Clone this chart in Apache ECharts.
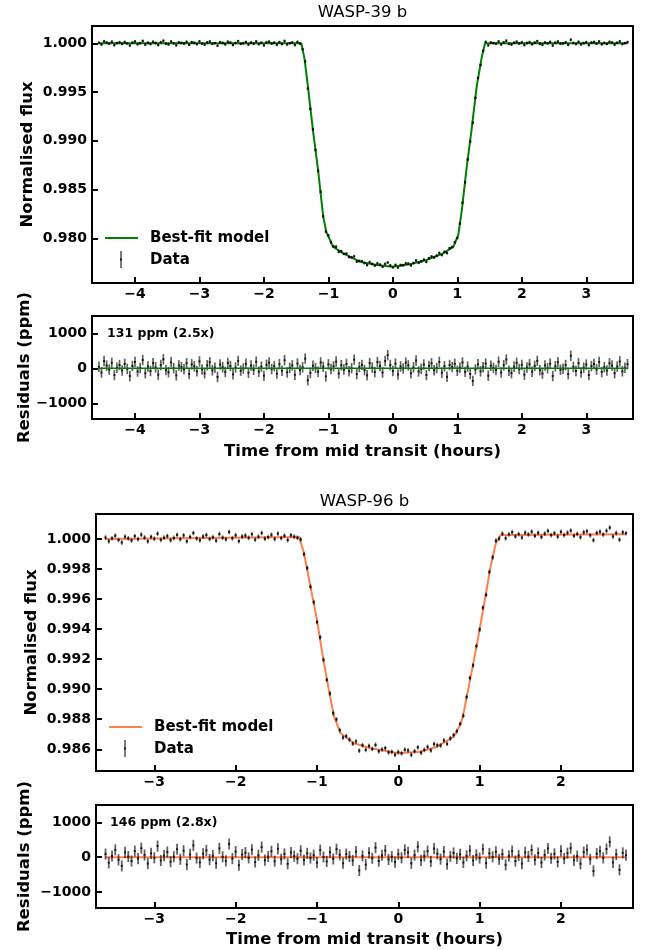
<!DOCTYPE html>
<html>
<head>
<meta charset="utf-8">
<script src="https://cdn.jsdelivr.net/npm/echarts@6/dist/echarts.min.js"></script>
<style>html,body{margin:0;padding:0;background:#fff}#c{width:649px;height:950px}</style>
</head>
<body>
<div id="c"></div>
<script>
// ---------------- WASP-39 b ----------------
const t39 = [-4.56,-4.52,-4.48,-4.44,-4.40,-4.36,-4.32,-4.28,-4.24,-4.20,
-4.16,-4.12,-4.08,-4.04,-4.00,-3.96,-3.92,-3.88,-3.84,-3.80,
-3.76,-3.72,-3.68,-3.64,-3.60,-3.56,-3.52,-3.48,-3.44,-3.40,
-3.36,-3.32,-3.28,-3.24,-3.20,-3.16,-3.12,-3.08,-3.04,-3.00,
-2.96,-2.92,-2.88,-2.84,-2.80,-2.76,-2.72,-2.68,-2.64,-2.60,
-2.56,-2.52,-2.48,-2.44,-2.40,-2.36,-2.32,-2.28,-2.24,-2.20,
-2.16,-2.12,-2.08,-2.04,-2.00,-1.96,-1.92,-1.88,-1.84,-1.80,
-1.76,-1.72,-1.68,-1.64,-1.60,-1.56,-1.52,-1.48,-1.44,-1.40,
-1.36,-1.32,-1.28,-1.24,-1.20,-1.16,-1.12,-1.08,-1.04,-1.00,
-0.96,-0.92,-0.88,-0.84,-0.80,-0.76,-0.72,-0.68,-0.64,-0.60,
-0.56,-0.52,-0.48,-0.44,-0.40,-0.36,-0.32,-0.28,-0.24,-0.20,
-0.16,-0.12,-0.08,-0.04,0.00,0.04,0.08,0.12,0.16,0.20,
0.24,0.28,0.32,0.36,0.40,0.44,0.48,0.52,0.56,0.60,
0.64,0.68,0.72,0.76,0.80,0.84,0.88,0.92,0.96,1.00,
1.04,1.08,1.12,1.16,1.20,1.24,1.28,1.32,1.36,1.40,
1.44,1.48,1.52,1.56,1.60,1.64,1.68,1.72,1.76,1.80,
1.84,1.88,1.92,1.96,2.00,2.04,2.08,2.12,2.16,2.20,
2.24,2.28,2.32,2.36,2.40,2.44,2.48,2.52,2.56,2.60,
2.64,2.68,2.72,2.76,2.80,2.84,2.88,2.92,2.96,3.00,
3.04,3.08,3.12,3.16,3.20,3.24,3.28,3.32,3.36,3.40,
3.44,3.48,3.52,3.56,3.60,3.64];

const flux39 = [1.00005,0.99988,1.00021,1.00008,0.99997,1.00016,0.99981,1.00002,1.0001,0.99994,
1.00013,0.99998,0.99978,1.00007,1.00019,0.99991,1.00001,1.00024,0.99986,1.00006,
0.99993,1.00015,1.00003,0.99982,1.0001,1.00026,0.99995,0.99989,1.00018,1.0,
0.9998,1.00009,1.00004,0.99998,1.00015,0.99984,1.00012,1.00006,0.99992,1.0002,
0.99997,0.99986,1.00009,1.00018,0.99995,1.00002,0.99976,1.00011,1.00004,0.9999,
1.00016,1.00007,0.99983,1.00003,1.00022,0.99994,1.0,1.00013,0.99988,1.00008,
0.99996,1.00019,0.99991,1.00005,0.99979,1.0001,1.00017,0.99998,1.00007,0.99985,
1.00012,0.99993,1.00024,0.99989,1.00002,1.00009,0.99982,1.00014,0.99996,0.99939,
0.99814,0.99536,0.99327,0.99118,0.98906,0.98691,0.98477,0.98225,0.98069,0.9803,
0.97959,0.97917,0.97913,0.97862,0.97868,0.9784,0.97843,0.97808,0.97804,0.97815,
0.97761,0.97767,0.97766,0.97746,0.97726,0.97755,0.97737,0.9772,0.97743,0.9773,
0.97708,0.97738,0.97752,0.97722,0.97702,0.97727,0.97699,0.97726,0.97724,0.97744,
0.9774,0.97722,0.97746,0.97773,0.97748,0.97762,0.97781,0.97758,0.97795,0.97813,
0.97804,0.97821,0.97849,0.97829,0.97861,0.97848,0.97899,0.9791,0.97959,0.98003,
0.98152,0.98366,0.98573,0.98808,0.98992,0.99185,0.99441,0.99644,0.99778,0.99922,
1.00014,0.99979,1.00008,1.00002,0.99996,1.00019,0.99988,1.00009,1.00026,0.99994,
0.99987,1.00005,1.00016,0.99998,1.0001,0.99982,1.00003,1.00012,0.99991,1.00007,
1.00022,0.99995,0.99985,1.00009,1.0,1.00014,0.99978,1.00006,1.00018,0.99996,
0.99999,1.0001,0.99984,1.00036,1.00004,0.99993,1.00015,0.99989,1.00002,1.00011,
0.99981,1.00007,1.00013,0.99997,1.00019,0.9999,1.00004,0.99994,1.00015,1.00008,
0.99986,1.00005,1.0002,0.99992,1.00002,1.00012];

const res39 = [45,-120,210,80,-35,160,-190,20,95,-60,
130,-15,-220,70,185,-90,10,240,-140,55,
-75,150,30,-180,95,260,-50,-110,175,5,
-200,85,40,-25,145,-160,115,60,-85,200,
-30,-140,90,175,-55,20,-245,110,35,-100,
155,70,-170,25,215,-65,-5,130,-125,80,
-40,190,-95,50,-210,100,165,-20,65,-150,
120,-70,235,-115,15,85,-185,140,-45,30,
280,-340,-130,75,10,-95,170,45,-230,115,
-15,60,195,-145,90,-35,125,-80,5,250,
-165,40,100,-50,-200,150,20,-105,180,65,
-120,210,380,95,-75,135,-175,55,0,165,
85,-140,30,225,-90,-15,110,-190,70,145,
-55,10,185,-125,60,-240,95,40,130,-70,
20,170,-100,50,-160,-360,-30,115,-85,35,
140,-210,75,15,-45,190,-120,90,255,-65,
-135,45,160,-20,100,-180,25,120,-95,70,
215,-50,-150,85,5,135,-220,60,175,-40,
-10,95,-165,360,40,-75,150,-115,20,110,
-190,65,125,-30,185,-105,35,-60,145,80,
-140,50,200,-85,15,120];

const err39 = 150; // ppm

const modelT39 = [-4.56,-1.42,-1.37,-1.32,-1.24,-1.16,-1.08,-1.03,-0.98,-0.93,-0.77,-0.51,-0.25,0,0.26,0.52,0.78,0.94,1.015,1.07,1.14,1.22,1.30,1.38,1.43,3.64];
const modelF39 = [1.0,1.0,0.9984,0.9957,0.9911,0.987,0.9822,0.9806,0.9799,0.97915,0.97846,0.9776,0.97726,0.97709,0.97733,0.97777,0.97846,0.97914,0.98034,0.9829,0.987,0.9911,0.99555,0.99863,1.0,1.0];
const zeroT39 = [-4.56, 3.64];
const zeroR39 = [0, 0];

// ---------------- WASP-96 b ----------------
const t96 = [-3.60,-3.56,-3.52,-3.48,-3.44,-3.40,-3.36,-3.32,-3.28,-3.24,
-3.20,-3.16,-3.12,-3.08,-3.04,-3.00,-2.96,-2.92,-2.88,-2.84,
-2.80,-2.76,-2.72,-2.68,-2.64,-2.60,-2.56,-2.52,-2.48,-2.44,
-2.40,-2.36,-2.32,-2.28,-2.24,-2.20,-2.16,-2.12,-2.08,-2.04,
-2.00,-1.96,-1.92,-1.88,-1.84,-1.80,-1.76,-1.72,-1.68,-1.64,
-1.60,-1.56,-1.52,-1.48,-1.44,-1.40,-1.36,-1.32,-1.28,-1.24,
-1.20,-1.16,-1.12,-1.08,-1.04,-1.00,-0.96,-0.92,-0.88,-0.84,
-0.80,-0.76,-0.72,-0.68,-0.64,-0.60,-0.56,-0.52,-0.48,-0.44,
-0.40,-0.36,-0.32,-0.28,-0.24,-0.20,-0.16,-0.12,-0.08,-0.04,
0.00,0.04,0.08,0.12,0.16,0.20,0.24,0.28,0.32,0.36,
0.40,0.44,0.48,0.52,0.56,0.60,0.64,0.68,0.72,0.76,
0.80,0.84,0.88,0.92,0.96,1.00,1.04,1.08,1.12,1.16,
1.20,1.24,1.28,1.32,1.36,1.40,1.44,1.48,1.52,1.56,
1.60,1.64,1.68,1.72,1.76,1.80,1.84,1.88,1.92,1.96,
2.00,2.04,2.08,2.12,2.16,2.20,2.24,2.28,2.32,2.36,
2.40,2.44,2.48,2.52,2.56,2.60,2.64,2.68,2.72,2.76,
2.80];

const flux96 = [1.0001,0.99985,1.00005,1.00022,0.99994,0.99977,1.00016,1.00004,0.99991,1.0002,
0.99999,1.00029,1.0001,0.99985,1.00015,1.00002,1.00036,0.99995,1.00009,1.0002,
0.99992,1.00007,1.00028,0.99999,1.00024,0.99985,1.00014,1.0004,1.00004,0.99992,
1.00017,1.00027,1.0,1.00012,0.9999,1.00033,1.00009,0.99998,1.00047,1.00005,
1.00025,0.99986,1.00017,1.00023,1.00008,1.00032,0.99996,1.00016,1.0004,1.00002,
1.00013,1.00028,1.0,1.00036,1.00006,1.00022,0.99993,1.00026,1.00016,1.00008,
0.99997,0.99899,0.99807,0.99682,0.99579,0.99447,0.99346,0.99196,0.99062,0.98971,
0.9884,0.98799,0.98728,0.98678,0.98687,0.98664,0.98637,0.98652,0.98591,0.98627,
0.98596,0.98623,0.98602,0.98629,0.98586,0.98599,0.98608,0.98579,0.98583,0.98563,
0.98582,0.98573,0.98597,0.98592,0.98563,0.98587,0.98613,0.98577,0.98596,0.98616,
0.98592,0.98635,0.98627,0.98625,0.98659,0.98636,0.98672,0.98695,0.9872,0.98769,
0.98823,0.98948,0.99075,0.99159,0.99287,0.99397,0.99543,0.99628,0.99781,0.99878,
0.99989,1.00003,1.00036,1.00005,1.00031,1.00045,1.00017,1.00033,1.0001,1.00042,
1.0003,1.00049,1.00021,1.00041,1.00013,1.00036,1.00054,1.00026,1.00039,1.00016,
1.00048,1.00026,1.00042,1.00056,1.00021,1.00034,1.00012,1.00045,1.00052,1.00025,
0.99992,1.00041,1.00049,1.0003,1.00055,1.00076,1.00017,1.0004,0.99996,1.00045,
1.00039];

const res96 = [90,-160,35,210,-75,-250,140,20,-110,175,
-40,260,65,-185,110,-20,320,-95,45,150,
-130,15,230,-60,185,-210,80,340,-25,-150,
100,195,-70,45,-175,255,10,-105,380,-40,
160,-230,75,130,-20,215,-140,55,290,-85,
20,170,-115,240,-60,95,-190,135,30,-45,
185,-80,110,-25,60,-155,205,5,-120,145,
-50,230,70,-175,90,20,-95,160,-380,40,
-215,125,-30,275,-110,55,190,-65,15,-140,
85,-20,210,140,-175,60,300,-90,35,175,
-120,245,95,-55,160,-200,20,120,-35,80,
-150,40,190,-95,65,-25,230,-170,110,10,
155,-60,85,-220,35,175,-110,50,-185,140,
20,205,-75,120,-155,65,250,-30,95,-135,
180,-40,115,260,-90,30,-190,145,210,-60,
-395,100,170,-20,235,440,-150,80,-365,125,
60];

const err96 = 160; // ppm

const modelT96 = [-3.60,-1.22,-1.16,-1.08,-1.00,-0.935,-0.854,-0.79,-0.71,-0.546,-0.34,0,0.27,0.48,0.684,0.726,0.77,0.81,0.89,0.97,1.05,1.135,1.20,1.26,2.80];
const modelF96 = [1.00001,1.00013,0.99907,0.99684,0.99462,0.9924,0.98995,0.98817,0.98707,0.9864,0.98607,0.98573,0.98584,0.98617,0.98684,0.98729,0.9877,0.9886,0.99084,0.99307,0.99551,0.99817,0.99973,1.00027,1.00032];
const zeroT96 = [-3.60, 2.80];
const zeroR96 = [0, 0];

// ---------------- ticks ----------------
const xTicks39 = [-4,-3,-2,-1,0,1,2,3];
const xTicks96 = [-3,-2,-1,0,1,2];
const yTicks39 = [0.980,0.985,0.990,0.995,1.000];
const yTicks96 = [0.986,0.988,0.990,0.992,0.994,0.996,0.998,1.000];
const resTicks = [-1000,0,1000];

// ---------------- styling helpers ----------------
const FONT = '"DejaVu Sans", sans-serif';
const GREEN = '#008000';
const CORAL = '#ff7f50';
const minus = v => (v < 0 ? '\u2212' + Math.abs(v) : String(v));

function xAxis(grid, min, max, ticks) {
  return {
    type: 'value', gridIndex: grid, min: min, max: max, position: 'bottom',
    splitLine: {show: false},
    axisLine: {show: false, onZero: false},
    axisTick: {show: true, inside: true, length: 6, lineStyle: {color: '#000', width: 2}, customValues: ticks},
    axisLabel: {show: true, customValues: ticks, formatter: v => minus(v), margin: 4,
      fontFamily: FONT, fontWeight: 'bold', fontSize: 14, color: '#000'}
  };
}
function yAxis(grid, min, max, ticks, fmt) {
  return {
    type: 'value', gridIndex: grid, min: min, max: max, scale: true, position: 'left',
    splitLine: {show: false},
    axisLine: {show: false, onZero: false},
    axisTick: {show: true, inside: true, length: 6, lineStyle: {color: '#000', width: 2}, customValues: ticks},
    axisLabel: {show: true, customValues: ticks, formatter: fmt, margin: 5,
      fontFamily: FONT, fontWeight: 'bold', fontSize: 14, color: '#000'}
  };
}
function errRender(dotColor, barColor, dot, lw) {
  return function (params, api) {
    const x = api.value(0), y = api.value(1), e = api.value(2);
    const a = api.coord([x, y - e]);
    const b = api.coord([x, y + e]);
    const c = api.coord([x, y]);
    return {
      type: 'group',
      children: [
        {type: 'line', shape: {x1: a[0], y1: a[1], x2: b[0], y2: b[1]},
          style: {stroke: barColor, lineWidth: lw}},
        {type: 'rect', shape: {x: c[0] - dot / 2, y: c[1] - dot / 2, width: dot, height: dot},
          style: {fill: dotColor}}
      ]
    };
  };
}
function pairs(xs, ys) { return xs.map((x, i) => [x, ys[i]]); }
function triples(xs, ys, e) { return xs.map((x, i) => [x, ys[i], e]); }

const grids = [
  {left: 92, top: 26, width: 541, height: 257},
  {left: 92, top: 316, width: 541, height: 103},
  {left: 96, top: 514, width: 537, height: 257},
  {left: 96, top: 805, width: 537, height: 103}
].map(g => Object.assign(g, {show: true, borderColor: '#000', borderWidth: 2, backgroundColor: 'transparent', containLabel: false, outerBoundsMode: 'none'}));

function txt(text, x, y, size, weight, opts) {
  return Object.assign({
    type: 'text', x: x, y: y, z: 100,
    style: {text: text, font: weight + ' ' + size + 'px ' + FONT, fill: '#000',
      align: 'center', verticalAlign: 'middle', textAlign: 'center', textVerticalAlign: 'middle'}
  }, opts || {});
}
function leftTxt(text, x, y, size) {
  const t = txt(text, x, y, size, 'bold');
  t.style.align = 'left'; t.style.textAlign = 'left';
  return t;
}
function legend(x0, y0, color) {
  return [
    {type: 'line', z: 100, shape: {x1: x0, y1: y0, x2: x0 + 33, y2: y0}, style: {stroke: color, lineWidth: 2}},
    leftTxt('Best-fit model', x0 + 45, y0, 15),
    {type: 'line', z: 100, shape: {x1: x0 + 16, y1: y0 + 13, x2: x0 + 16, y2: y0 + 30}, style: {stroke: 'rgba(0,0,0,0.65)', lineWidth: 1.6}},
    {type: 'rect', z: 100, shape: {x: x0 + 15, y: y0 + 20.5, width: 2, height: 2}, style: {fill: 'rgba(0,0,0,0.8)'}},
    leftTxt('Data', x0 + 45, y0 + 22, 15)
  ];
}

const option = {
  animation: false,
  backgroundColor: '#fff',
  grid: grids,
  xAxis: [
    xAxis(0, -4.667, 3.725, xTicks39),
    xAxis(1, -4.667, 3.725, xTicks39),
    xAxis(2, -3.717, 2.886, xTicks96),
    xAxis(3, -3.717, 2.886, xTicks96)
  ],
  yAxis: [
    yAxis(0, 0.975415, 1.001774, yTicks39, v => v.toFixed(3)),
    yAxis(1, -1450, 1500, resTicks, v => minus(v)),
    yAxis(2, 0.984553, 1.001667, yTicks96, v => v.toFixed(3)),
    yAxis(3, -1460, 1500, resTicks, v => minus(v))
  ],
  series: [
    {type: 'line', name: 'Best-fit model', xAxisIndex: 0, yAxisIndex: 0, data: pairs(modelT39, modelF39),
      showSymbol: false, lineStyle: {color: GREEN, width: 2}, z: 2},
    {type: 'custom', name: 'Data', xAxisIndex: 0, yAxisIndex: 0, data: triples(t39, flux39, err39 * 1e-6),
      encode: {x: 0, y: 1}, renderItem: errRender('rgba(0,0,0,0.85)', 'rgba(0,0,0,0.55)', 2.2, 1.4), clip: true, z: 3},
    {type: 'custom', name: 'Data', xAxisIndex: 1, yAxisIndex: 1, data: triples(t39, res39, err39),
      encode: {x: 0, y: 1}, renderItem: errRender('rgba(0,0,0,0.8)', 'rgba(0,0,0,0.62)', 2, 1.7), clip: true, z: 2},
    {type: 'line', name: 'Best-fit model', xAxisIndex: 1, yAxisIndex: 1, data: pairs(zeroT39, zeroR39),
      showSymbol: false, lineStyle: {color: GREEN, width: 1.5}, z: 3},

    {type: 'line', name: 'Best-fit model', xAxisIndex: 2, yAxisIndex: 2, data: pairs(modelT96, modelF96),
      showSymbol: false, lineStyle: {color: CORAL, width: 2}, z: 2},
    {type: 'custom', name: 'Data', xAxisIndex: 2, yAxisIndex: 2, data: triples(t96, flux96, err96 * 1e-6),
      encode: {x: 0, y: 1}, renderItem: errRender('rgba(0,0,0,0.85)', 'rgba(0,0,0,0.55)', 2.2, 1.4), clip: true, z: 3},
    {type: 'custom', name: 'Data', xAxisIndex: 3, yAxisIndex: 3, data: triples(t96, res96, err96),
      encode: {x: 0, y: 1}, renderItem: errRender('rgba(0,0,0,0.8)', 'rgba(0,0,0,0.62)', 2, 1.8), clip: true, z: 2},
    {type: 'line', name: 'Best-fit model', xAxisIndex: 3, yAxisIndex: 3, data: pairs(zeroT96, zeroR96),
      showSymbol: false, lineStyle: {color: CORAL, width: 2}, z: 1}
  ],
  graphic: [
    txt('WASP-39 b', 362.5, 13, 16.5, 'normal'),
    txt('Normalised flux', 28, 154.5, 16.5, 'bold', {rotation: Math.PI / 2}),
    txt('Residuals (ppm)', 25, 367.5, 16.5, 'bold', {rotation: Math.PI / 2}),
    txt('Time from mid transit (hours)', 362.5, 451.5, 16.5, 'bold'),
    leftTxt('131 ppm (2.5x)', 107, 333.5, 12.5),
    ...legend(105, 238, GREEN),
    txt('WASP-96 b', 364.5, 501.5, 16.5, 'normal'),
    txt('Normalised flux', 31.5, 642.5, 16.5, 'bold', {rotation: Math.PI / 2}),
    txt('Residuals (ppm)', 25, 856.5, 16.5, 'bold', {rotation: Math.PI / 2}),
    txt('Time from mid transit (hours)', 364.5, 940, 16.5, 'bold'),
    leftTxt('146 ppm (2.8x)', 110, 822.5, 12.5),
    ...legend(109, 727, CORAL)
  ]
};

const chart = echarts.init(document.getElementById('c'), null, {renderer: 'canvas', width: 649, height: 950});
chart.setOption(option);
</script>
</body>
</html>
